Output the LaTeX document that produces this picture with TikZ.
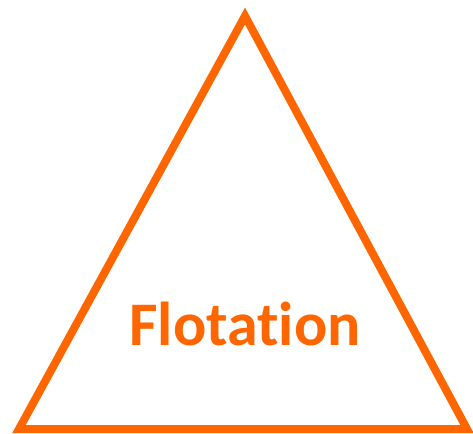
\documentclass[tikz,border=0pt]{standalone}
\usepackage{fontspec}
\setmainfont[Ligatures=NoCommon]{Carlito}
\usepackage{xcolor}
\definecolor{floworange}{HTML}{FF6600}

\begin{document}
\begin{tikzpicture}[x=1pt, y=-1pt]
    \useasboundingbox (0,0) rectangle (473,433);
    \coordinate (top) at (245,16);
    \coordinate (bl) at (19,429);
    \coordinate (br) at (467,429);
    \draw[floworange, line width=8pt, line join=miter] (top) -- (bl) -- (br) -- cycle;
    \node[floworange, anchor=base, inner sep=0pt, font=\bfseries\fontsize{62}{64}\selectfont] (flot) at (245,345) {Flotation};
\end{tikzpicture}
\end{document}
